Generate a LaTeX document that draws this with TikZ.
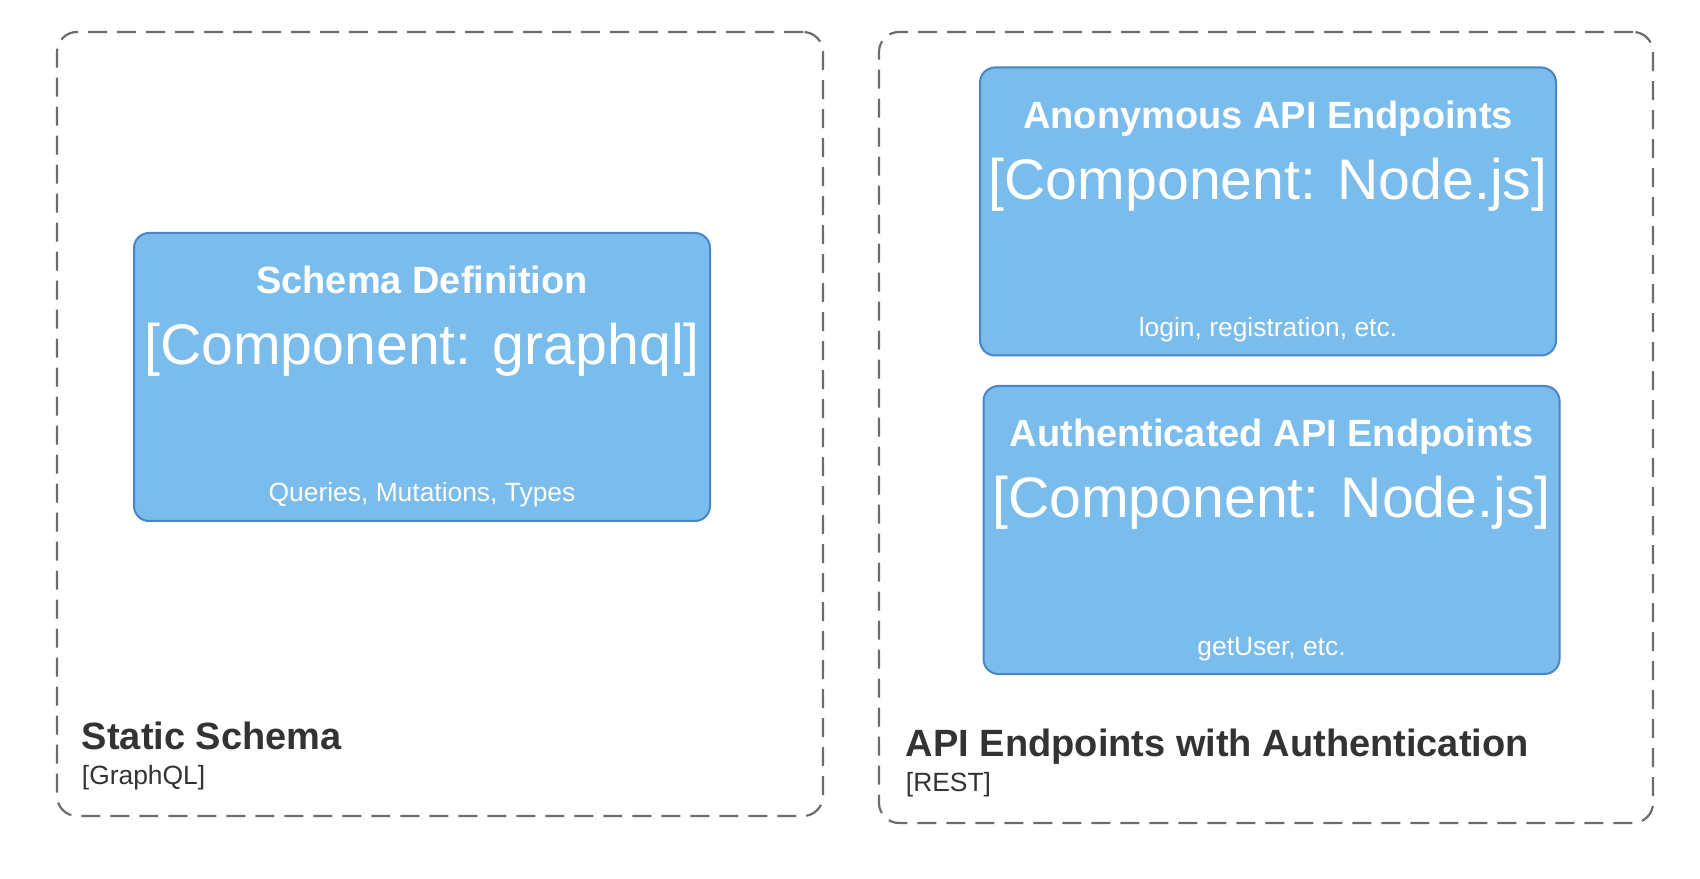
\documentclass[tikz,border=0pt]{standalone}
\usepackage{fontspec}
\setmainfont{Liberation Sans}
\usepackage{xcolor}
\usetikzlibrary{positioning, calc}

\definecolor{compfill}{RGB}{122,188,235}
\definecolor{compline}{RGB}{72,134,200}
\definecolor{bndline}{RGB}{108,108,108}
\definecolor{bndtext}{RGB}{51,51,51}

\begin{document}
\begin{tikzpicture}[x=0.5pt, y=0.5pt,
  boundary/.style={draw=bndline, line width=1.1pt, dash pattern=on 9.5pt off 5pt, rounded corners=10pt, inner sep=0pt},
  component/.style={draw=compline, fill=compfill, line width=1pt, rounded corners=7.5pt, minimum width=288pt, minimum height=144pt, inner sep=0pt},
  ctitle/.style={anchor=base, text=white, font=\fontsize{19}{22}\selectfont\bfseries},
  ctech/.style={anchor=base, text=white, font=\fontsize{28.6}{32}\selectfont},
  cdesc/.style={anchor=base, text=white, font=\fontsize{13.2}{16}\selectfont},
  btitle/.style={anchor=base west, text=bndtext, font=\fontsize{19}{22}\selectfont\bfseries},
  btech/.style={anchor=base west, text=bndtext, font=\fontsize{13.2}{16}\selectfont}]
\useasboundingbox (0,0) rectangle (1700,878);

% Static schema (GraphQL)
\node[boundary, minimum width=383pt, minimum height=392pt] (static) at (440,454) {};
\node[btitle] (statictitle) at ([xshift=9.5pt, yshift=34pt]static.south west) {Static Schema};
\node[btech] (statictech) at ([xshift=9.5pt, yshift=16.5pt]static.south west) {[GraphQL]};

\node[component] (schema) at (422,501) {};
\node[ctitle] (schematitle) at ([yshift=-31pt]schema.north) {Schema Definition};
\node[ctech] (schematech) at ([yshift=-66.5pt]schema.north) {[Component: graphql]};
\node[cdesc] (schemadesc) at ([yshift=-135pt]schema.north) {Queries, Mutations, Types};

% REST endpoints
\node[boundary, minimum width=387pt, minimum height=395.5pt] (api) at (1266,450.5) {};
\node[btitle] (apititle) at ([xshift=10.5pt, yshift=34pt]api.south west) {API Endpoints with Authentication};
\node[btech] (apitech) at ([xshift=10.5pt, yshift=16.5pt]api.south west) {[REST]};

\node[component] (anon) at (1268,666.5) {};
\node[ctitle] (anontitle) at ([yshift=-31pt]anon.north) {Anonymous API Endpoints};
\node[ctech] (anontech) at ([yshift=-66.5pt]anon.north) {[Component: Node.js]};
\node[cdesc] (anondesc) at ([yshift=-135pt]anon.north) {login, registration, etc.};

\node[component] (auth) at (1271.5,348) {};
\node[ctitle] (authtitle) at ([yshift=-31pt]auth.north) {Authenticated API Endpoints};
\node[ctech] (authtech) at ([yshift=-66.5pt]auth.north) {[Component: Node.js]};
\node[cdesc] (authdesc) at ([yshift=-135pt]auth.north) {getUser, etc.};
\end{tikzpicture}
\end{document}
